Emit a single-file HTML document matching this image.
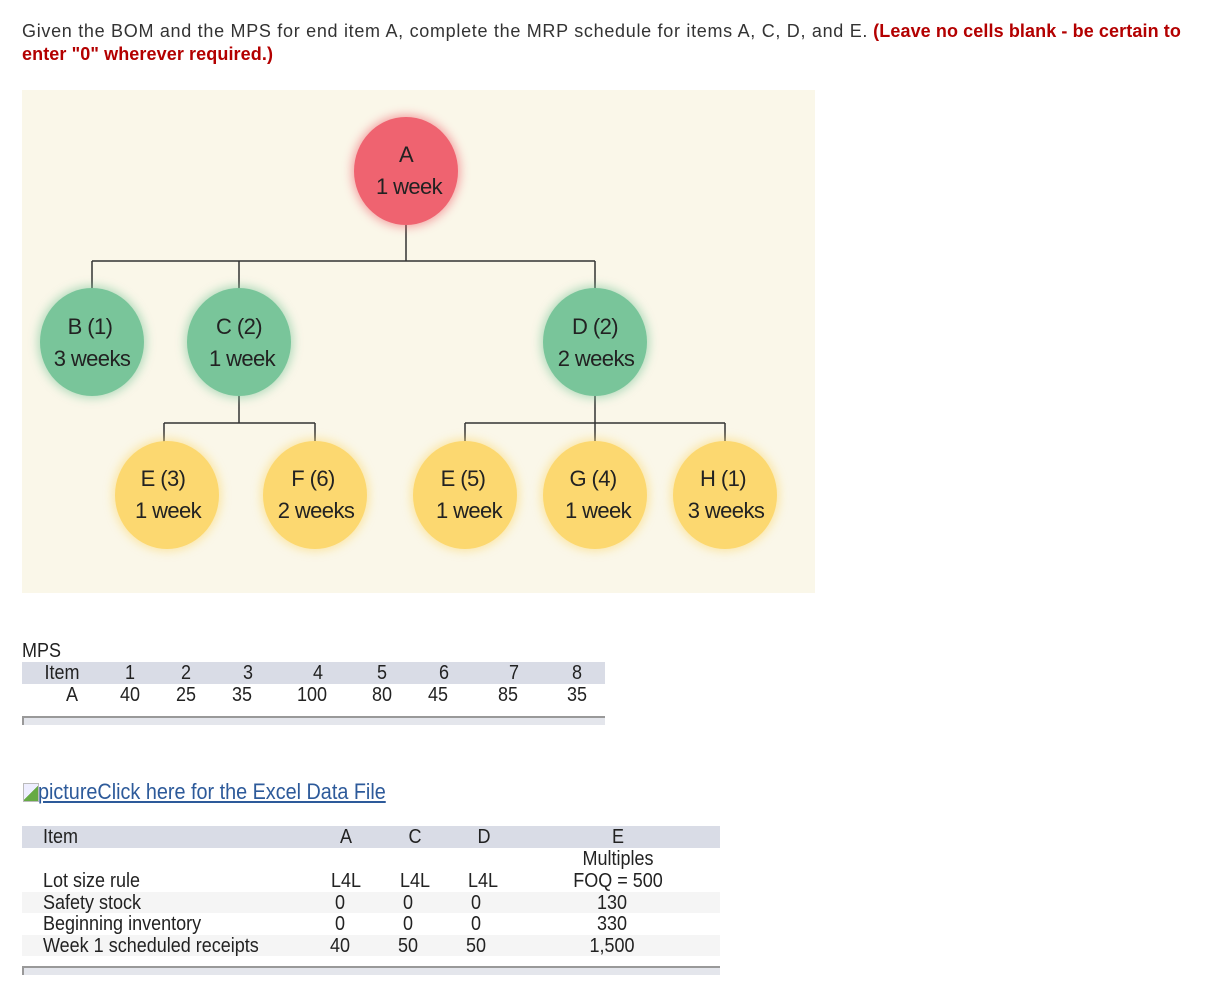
<!DOCTYPE html>
<html><head><meta charset="utf-8"><style>
body{margin:0;width:1207px;height:981px;background:#fff;position:relative;overflow:hidden;font-family:"Liberation Sans",Arial,sans-serif;color:#333}
.a{position:absolute;white-space:nowrap}
.n{font-family:"Liberation Sans",sans-serif;font-size:20px;color:#222;line-height:22px;transform:scaleX(0.9);transform-origin:left center}
.c{transform:translateX(-50%) scaleX(0.9);transform-origin:center center}
</style></head><body>
<div class="a" style="left:22px;top:20px;font-size:18px;line-height:23px;white-space:normal;width:1190px"><span style="letter-spacing:0.7px">Given the BOM and the MPS for end item A, complete the MRP schedule for items A, C, D, and E.</span> <b style="color:#b30000;letter-spacing:0.1px">(Leave no cells blank - be certain to enter "0" wherever required.)</b></div>

<svg class="a" style="left:22px;top:90px" width="793" height="503" viewBox="22 90 793 503">
<defs><filter id="g" x="-50%" y="-50%" width="200%" height="200%"><feGaussianBlur stdDeviation="5"/></filter></defs>
<rect x="22" y="90" width="793" height="503" fill="#faf7e9"/>
<g stroke="#333" stroke-width="1.5" fill="none">
<path d="M406 225V261M92 261H595M92 261V290M239 261V290M595 261V290"/>
<path d="M239 396V423M164 423H315M164 423V445M315 423V445"/>
<path d="M595 396V423M465 423H725M465 423V445M595 423V445M725 423V445"/>
</g>
<g filter="url(#g)" opacity="0.6">
<ellipse cx="406" cy="171" rx="54" ry="56" fill="#ef6370"/>
<ellipse cx="92" cy="342" rx="54" ry="56" fill="#79c59a"/><ellipse cx="239" cy="342" rx="54" ry="56" fill="#79c59a"/><ellipse cx="595" cy="342" rx="54" ry="56" fill="#79c59a"/>
<ellipse cx="167" cy="495" rx="54" ry="56" fill="#fcd870"/><ellipse cx="315" cy="495" rx="54" ry="56" fill="#fcd870"/><ellipse cx="465" cy="495" rx="54" ry="56" fill="#fcd870"/><ellipse cx="595" cy="495" rx="54" ry="56" fill="#fcd870"/><ellipse cx="725" cy="495" rx="54" ry="56" fill="#fcd870"/>
</g>
<ellipse cx="406" cy="171" rx="52" ry="54" fill="#ef6370"/>
<ellipse cx="92" cy="342" rx="52" ry="54" fill="#79c59a"/><ellipse cx="239" cy="342" rx="52" ry="54" fill="#79c59a"/><ellipse cx="595" cy="342" rx="52" ry="54" fill="#79c59a"/>
<ellipse cx="167" cy="495" rx="52" ry="54" fill="#fcd870"/><ellipse cx="315" cy="495" rx="52" ry="54" fill="#fcd870"/><ellipse cx="465" cy="495" rx="52" ry="54" fill="#fcd870"/><ellipse cx="595" cy="495" rx="52" ry="54" fill="#fcd870"/><ellipse cx="725" cy="495" rx="52" ry="54" fill="#fcd870"/>
<g font-family="Liberation Sans, sans-serif" font-size="22" fill="#222" text-anchor="middle" letter-spacing="-0.6">
<text x="406" y="162">A</text><text x="409" y="194">1 week</text>
<text x="90" y="334">B (1)</text><text x="92" y="366">3 weeks</text>
<text x="239" y="334">C (2)</text><text x="242" y="366">1 week</text>
<text x="595" y="334">D (2)</text><text x="596" y="366">2 weeks</text>
<text x="163" y="486">E (3)</text><text x="168" y="518">1 week</text>
<text x="313" y="486">F (6)</text><text x="316" y="518">2 weeks</text>
<text x="463" y="486">E (5)</text><text x="469" y="518">1 week</text>
<text x="593" y="486">G (4)</text><text x="598" y="518">1 week</text>
<text x="723" y="486">H (1)</text><text x="726" y="518">3 weeks</text>
</g>
</svg>

<div class="a n" style="left:22px;top:640px">MPS</div>
<div class="a" style="left:22px;top:662px;width:583px;height:22px;background:#d9dce6"></div>
<div class="a" style="left:22px;top:716px;width:583px;height:9px;background:#e4e6ec;border-top:2px solid #999;border-left:2px solid #999;box-sizing:border-box"></div>
<div class="a n c" style="left:62px;top:662px">Item</div>
<div class="a n c" style="left:130px;top:662px">1</div><div class="a n c" style="left:186px;top:662px">2</div><div class="a n c" style="left:248px;top:662px">3</div><div class="a n c" style="left:318px;top:662px">4</div><div class="a n c" style="left:382px;top:662px">5</div><div class="a n c" style="left:444px;top:662px">6</div><div class="a n c" style="left:514px;top:662px">7</div><div class="a n c" style="left:577px;top:662px">8</div>
<div class="a n c" style="left:72px;top:684px">A</div>
<div class="a n c" style="left:130px;top:684px">40</div><div class="a n c" style="left:186px;top:684px">25</div><div class="a n c" style="left:242px;top:684px">35</div><div class="a n c" style="left:312px;top:684px">100</div><div class="a n c" style="left:382px;top:684px">80</div><div class="a n c" style="left:438px;top:684px">45</div><div class="a n c" style="left:508px;top:684px">85</div><div class="a n c" style="left:577px;top:684px">35</div>

<div class="a" style="left:23px;top:783px;width:14px;height:17px;border:1px solid #bbb;background:linear-gradient(135deg,#eef 50%,#6a4 50%)"></div>
<div class="a n" style="left:38px;top:781px;color:#2d5a9a;text-decoration:underline;font-size:22px">pictureClick here for the Excel Data File</div>

<div class="a" style="left:22px;top:826px;width:698px;height:22px;background:#d9dce6"></div>
<div class="a" style="left:22px;top:892px;width:698px;height:21px;background:#f5f5f5"></div>
<div class="a" style="left:22px;top:935px;width:698px;height:21px;background:#f5f5f5"></div>
<div class="a" style="left:22px;top:966px;width:698px;height:9px;background:#e4e6ec;border-top:2px solid #999;border-left:2px solid #999;box-sizing:border-box"></div>
<div class="a n" style="left:43px;top:826px">Item</div>
<div class="a n c" style="left:346px;top:826px">A</div><div class="a n c" style="left:415px;top:826px">C</div><div class="a n c" style="left:484px;top:826px">D</div><div class="a n c" style="left:618px;top:826px">E</div>
<div class="a n c" style="left:618px;top:848px">Multiples</div>
<div class="a n" style="left:43px;top:870px">Lot size rule</div>
<div class="a n c" style="left:346px;top:870px">L4L</div><div class="a n c" style="left:415px;top:870px">L4L</div><div class="a n c" style="left:483px;top:870px">L4L</div><div class="a n c" style="left:618px;top:870px">FOQ = 500</div>
<div class="a n" style="left:43px;top:892px">Safety stock</div>
<div class="a n c" style="left:340px;top:892px">0</div><div class="a n c" style="left:408px;top:892px">0</div><div class="a n c" style="left:476px;top:892px">0</div><div class="a n c" style="left:612px;top:892px">130</div>
<div class="a n" style="left:43px;top:913px">Beginning inventory</div>
<div class="a n c" style="left:340px;top:913px">0</div><div class="a n c" style="left:408px;top:913px">0</div><div class="a n c" style="left:476px;top:913px">0</div><div class="a n c" style="left:612px;top:913px">330</div>
<div class="a n" style="left:43px;top:935px">Week 1 scheduled receipts</div>
<div class="a n c" style="left:340px;top:935px">40</div><div class="a n c" style="left:408px;top:935px">50</div><div class="a n c" style="left:476px;top:935px">50</div><div class="a n c" style="left:612px;top:935px">1,500</div>
</body></html>
